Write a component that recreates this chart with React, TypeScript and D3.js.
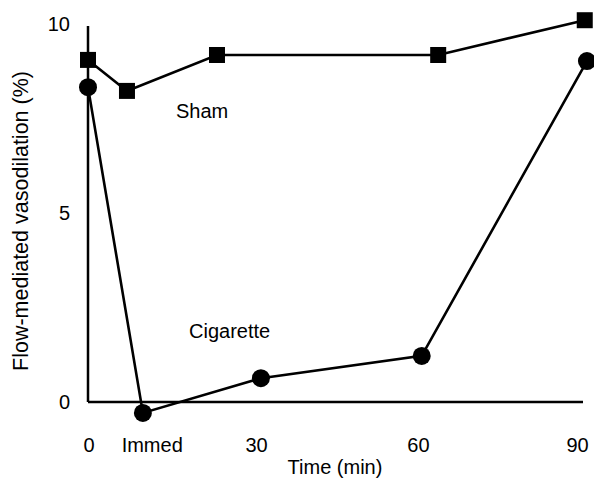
import React from 'react';
import * as d3 from 'd3';

// time (min) positions
const shamTime = [0, 7.1, 23.5, 63.8, 90.5];
const shamValue = [9.05, 8.23, 9.18, 9.18, 10.1];
const cigTime = [0, 10.0, 31.5, 60.8, 90.9];
const cigValue = [8.33, -0.29, 0.63, 1.22, 9.02];

// label positions on the time axis, as placed in the figure
const xTickValues = [0.2, 11.7, 30.7, 60.2, 89.2];
const xTickLabels = ['0', 'Immed', '30', '60', '90'];
const yTickValues = [0, 5, 10];

const W = 594;
const H = 480;
const FONT = '"Liberation Sans", Arial, Helvetica, sans-serif';

function App() {
  const x = d3.scaleLinear().domain([0, 90]).range([88, 582]);
  const y = d3.scaleLinear().domain([0, 10]).range([402, 24]);

  const line = d3.line<[number, number]>()
    .x(d => x(d[0]))
    .y(d => y(d[1]));

  const sham: [number, number][] = shamTime.map((t, i) => [t, shamValue[i]]);
  const cig: [number, number][] = cigTime.map((t, i) => [t, cigValue[i]]);

  const sq = 16;

  return (
    <svg width={W} height={H} style={{ position: 'absolute', left: 0, top: 0, background: '#fff' }}
      fontFamily={FONT}>
      {/* axes */}
      <line x1={x(0)} x2={x(0)} y1={y(0)} y2={26} stroke="#000" strokeWidth={2.5} />
      <line x1={x(0)} x2={x(90) + 1} y1={y(0)} y2={y(0)} stroke="#000" strokeWidth={2.5} />

      {yTickValues.map(v => (
        <text key={v} x={70} y={y(v)} dy="0.36em" textAnchor="end" fontSize={20}>{v}</text>
      ))}
      {xTickValues.map((v, i) => (
        <text key={i} x={x(v)} y={452} textAnchor="middle" fontSize={20}>{xTickLabels[i]}</text>
      ))}

      <text x={335} y={474} textAnchor="middle" fontSize={20}>Time (min)</text>
      <text transform="translate(28,221) rotate(-90)" textAnchor="middle" fontSize={21.5}>
        Flow-mediated vasodilation (%)
      </text>

      {/* series */}
      <path d={line(sham) || ''} fill="none" stroke="#000" strokeWidth={2.6} />
      <path d={line(cig) || ''} fill="none" stroke="#000" strokeWidth={2.6} />

      {sham.map((d, i) => (
        <rect key={i} x={x(d[0]) - sq / 2} y={y(d[1]) - sq / 2} width={sq} height={sq} fill="#000" />
      ))}
      {cig.map((d, i) => (
        <circle key={i} cx={x(d[0])} cy={y(d[1])} r={9} fill="#000" />
      ))}

      <text x={176} y={118} fontSize={20}>Sham</text>
      <text x={189} y={338} fontSize={20}>Cigarette</text>
    </svg>
  );
}

export default App;
